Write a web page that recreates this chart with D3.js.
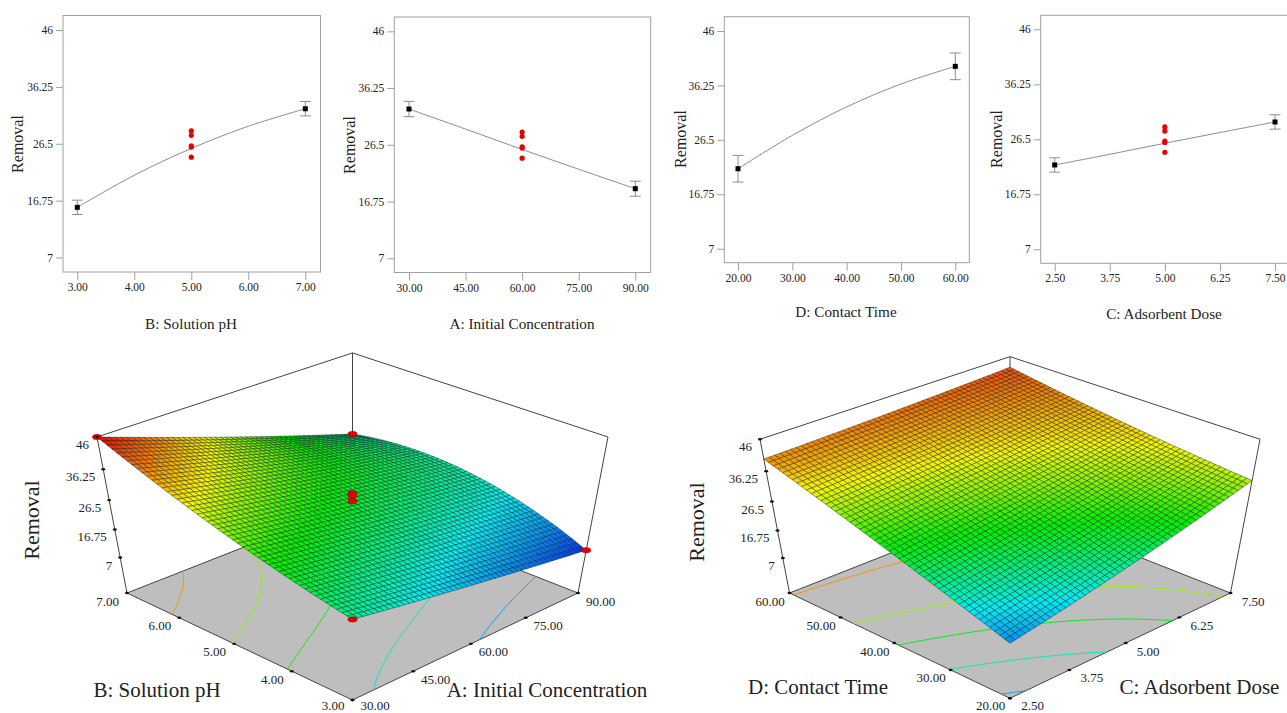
<!DOCTYPE html>
<html>
<head>
<meta charset="utf-8">
<script src="https://cdn.jsdelivr.net/npm/d3@7"></script>
<style>
  html, body { margin: 0; padding: 0; background: #fff; overflow: hidden; }
  text { font-family: "Liberation Serif", "Times New Roman", serif; fill: #222; }
</style>
</head>
<body>
<div id="chart"></div>
<script>
// values
const removalTicks = [7, 16.75, 26.5, 36.25, 46];
const centerRuns = [28.7, 27.95, 26.16, 25.93, 24.2];

const phTicks = [3, 4, 5, 6, 7];
const phCurve = [15.6, 21.1, 25.7, 29.5, 32.5];
const phErrors = [[3, 15.6, 1.23], [7, 32.5, 1.23]];

const concTicks = [30, 45, 60, 75, 90];
const concCurve = [32.65, 29.2, 25.7, 22.3, 18.96];
const concErrors = [[30, 32.65, 1.32], [90, 18.96, 1.29]];

const timeTicks = [20, 30, 40, 50, 60];
const timeCurve = [21.33, 27.3, 32.4, 36.5, 39.67];
const timeErrors = [[20, 21.33, 2.39], [60, 39.67, 2.39]];

const doseTicks = [2.5, 3.75, 5, 6.25, 7.5];
const doseCurve = [21.95, 23.84, 25.8, 27.7, 29.57];
const doseErrors = [[2.5, 21.95, 1.27], [7.5, 29.57, 1.27]];

// surfaces, rows are the second factor (low, mid, high), columns the first one
const surfaceConcPh = [
  [22.2, 15.5, 9.6],
  [32.1, 26, 21],
  [46, 32.3, 19.65]
];
const surfaceDoseTime = [
  [14, 22.6, 33.3],
  [27.5, 32.4, 37.3],
  [40, 41.1, 42.7]
];
const contourLevels = [15, 21, 27, 32.3, 39.5];

const fmt2 = d3.format(".2f");

const svg = d3.select("#chart").append("svg")
  .attr("width", 1287)
  .attr("height", 713);

// Main effect panels
const panels = [
  { label: "B: Solution pH", ticks: phTicks, curve: phCurve, errors: phErrors, runs: centerRuns, center: 5,
    frame: [63, 320.5, 15.5, 272], x0: 77.3, x1: 305.3, y46: 30, y7: 257.5,
    labelX: 191, labelY: 329, remX: 18, remY: 144 },
  { label: "A: Initial Concentration", ticks: concTicks, curve: concCurve, errors: concErrors, runs: centerRuns, center: 60,
    frame: [394.3, 650.7, 17, 272.5], x0: 409, x1: 635.3, y46: 31.3, y7: 258.3,
    labelX: 522, labelY: 329, remX: 350, remY: 145 },
  { label: "D: Contact Time", ticks: timeTicks, curve: timeCurve, errors: timeErrors, runs: [], center: 40,
    frame: [724.3, 969.3, 16.7, 262.7], x0: 738, x1: 955.3, y46: 31, y7: 248.7,
    labelX: 846, labelY: 317, remX: 681, remY: 139 },
  { label: "C: Adsorbent Dose", ticks: doseTicks, curve: doseCurve, errors: doseErrors, runs: centerRuns, center: 5,
    frame: [1040.7, 1292, 15.3, 263.3], x0: 1054.7, x1: 1275, y46: 29.3, y7: 249.3,
    labelX: 1164, labelY: 318.5, remX: 997, remY: 139 }
];

panels.forEach(p => {
  const g = svg.append("g");
  const x = d3.scaleLinear().domain(d3.extent(p.ticks)).range([p.x0, p.x1]);
  const y = d3.scaleLinear().domain([7, 46]).range([p.y7, p.y46]);

  g.append("rect")
    .attr("x", p.frame[0]).attr("y", p.frame[2])
    .attr("width", p.frame[1] - p.frame[0]).attr("height", p.frame[3] - p.frame[2])
    .attr("fill", "#fff").attr("stroke", "#a0a0a0");

  const xAxis = g.append("g")
    .attr("transform", `translate(0,${p.frame[3]})`)
    .call(d3.axisBottom(x).tickValues(p.ticks).tickFormat(fmt2).tickSize(8).tickPadding(3));
  const yAxis = g.append("g")
    .attr("transform", `translate(${p.frame[0]},0)`)
    .call(d3.axisLeft(y).tickValues(removalTicks).tickFormat(d => d).tickSize(7).tickPadding(3));
  [xAxis, yAxis].forEach(a => {
    a.select(".domain").remove();
    a.selectAll("line").attr("stroke", "#a0a0a0");
    a.selectAll("text").attr("font-size", 11.5).attr("font-family", null);
  });

  // fitted curve
  g.append("path")
    .datum(p.ticks.map((t, i) => [t, p.curve[i]]))
    .attr("fill", "none")
    .attr("stroke", "#8c8c8c")
    .attr("d", d3.line().x(d => x(d[0])).y(d => y(d[1])).curve(d3.curveCatmullRom));

  // error bars and means
  p.errors.forEach(e => {
    const bar = g.append("g").attr("stroke", "#8c8c8c").attr("fill", "none");
    bar.append("line").attr("x1", x(e[0])).attr("x2", x(e[0])).attr("y1", y(e[1] - e[2])).attr("y2", y(e[1] + e[2]));
    [e[1] - e[2], e[1] + e[2]].forEach(v => {
      bar.append("line").attr("x1", x(e[0]) - 5.5).attr("x2", x(e[0]) + 5.5).attr("y1", y(v)).attr("y2", y(v));
    });
    g.append("rect").attr("x", x(e[0]) - 2.5).attr("y", y(e[1]) - 2.5)
      .attr("width", 5).attr("height", 5).attr("fill", "#000");
  });

  g.selectAll(".run")
    .data(p.runs)
    .enter().append("circle")
    .attr("class", "run")
    .attr("cx", x(p.center))
    .attr("cy", d => y(d))
    .attr("r", 2.6)
    .attr("fill", "#e60000");

  g.append("text")
    .attr("x", p.labelX).attr("y", p.labelY)
    .attr("text-anchor", "middle").attr("font-size", 15.2)
    .text(p.label);
  g.append("text")
    .attr("transform", `translate(${p.remX},${p.remY}) rotate(-90)`)
    .attr("text-anchor", "middle").attr("dy", "0.32em").attr("font-size", 16)
    .text("Removal");
});

// Response surface colours, blue at the bottom through to red at the top
const surfaceColor = d3.scaleLinear()
  .domain([9.6, 18.5, 27.5, 35.5, 45])
  .range(["#0030f0", "#00ecf5", "#00f000", "#f5f500", "#f01400"])
  .clamp(true);

// quadratic through the three read values at t = 0, 0.5, 1
function through3(v, t) {
  return v[0] * (1 - t) * (1 - 2 * t) + v[1] * 4 * t * (1 - t) + v[2] * t * (2 * t - 1);
}
function surfaceValue(table, a, b) {
  return through3(table.map(row => through3(row, a)), b);
}

const zMin = -6;
const meshCells = 50;

function drawSurface(s) {
  const g = svg.append("g");
  const scaleA = d3.scaleLinear().domain(d3.extent(s.aTicks)).range([0, 1]);
  const scaleB = d3.scaleLinear().domain(d3.extent(s.bTicks)).range([0, 1]);
  const scaleH = d3.scaleLinear().domain([zMin, 46]).range([0, 1]);

  // perspective view of the unit box, a runs front to right and b runs front to left
  function project(a, b, v) {
    const p = a - b;
    const q = 1 - a - b;
    const h = scaleH(v);
    const w = 1 + s.kq * q + s.kh * h;
    return [s.cx + s.sx * p / w, s.cy + (s.sq * q + s.sh * h) / w];
  }
  const line = d3.line();

  // floor
  g.append("path")
    .attr("d", line([[0, 0], [1, 0], [1, 1], [0, 1]].map(c => project(c[0], c[1], zMin))) + "Z")
    .attr("fill", "#bebebe")
    .attr("stroke", "#333")
    .attr("stroke-width", 0.9);

  // box edges behind the surface
  const boxEdges = [
    [[0, 1, 46], [1, 1, 46], [1, 0, 46]],
    [[0, 1, zMin], [0, 1, 46]],
    [[1, 1, zMin], [1, 1, 46]],
    [[1, 0, zMin], [1, 0, 46]]
  ];
  g.selectAll(".box")
    .data(boxEdges)
    .enter().append("path")
    .attr("class", "box")
    .attr("fill", "none")
    .attr("stroke", "#444")
    .attr("stroke-width", 1)
    .attr("d", d => line(d.map(c => project(c[0], c[1], c[2]))));

  // floor contours
  const n = 121;
  const gridValues = [];
  for (let j = 0; j < n; j++) {
    for (let i = 0; i < n; i++) {
      gridValues.push(surfaceValue(s.table, i / (n - 1), j / (n - 1)));
    }
  }
  const inside = c => c[0] >= 0.5 && c[0] <= n - 0.5 && c[1] >= 0.5 && c[1] <= n - 0.5;
  d3.contours().size([n, n]).thresholds(contourLevels)(gridValues).forEach(level => {
    level.coordinates.forEach(polygon => polygon.forEach(ring => {
      let run = [];
      const flush = () => {
        if (run.length > 1) {
          g.append("path")
            .attr("fill", "none")
            .attr("stroke", surfaceColor(level.value))
            .attr("stroke-width", 1)
            .attr("d", line(run.map(c => project((c[0] - 0.5) / (n - 1), (c[1] - 0.5) / (n - 1), zMin))));
        }
        run = [];
      };
      ring.forEach(c => {
        if (inside(c)) run.push(c); else flush();
      });
      flush();
    }));
  });

  // surface mesh, painted from the back corner forward
  const cells = [];
  for (let j = 0; j < meshCells; j++) {
    for (let i = 0; i < meshCells; i++) cells.push([i, j]);
  }
  cells.sort((c, d) => (d[0] + d[1]) - (c[0] + c[1]));
  const nodeValue = (i, j) => surfaceValue(s.table, i / meshCells, j / meshCells);
  g.append("g").selectAll("path")
    .data(cells)
    .enter().append("path")
    .attr("d", c => {
      const corners = [[c[0], c[1]], [c[0] + 1, c[1]], [c[0] + 1, c[1] + 1], [c[0], c[1] + 1]];
      return line(corners.map(k => project(k[0] / meshCells, k[1] / meshCells, nodeValue(k[0], k[1])))) + "Z";
    })
    .attr("fill", c => surfaceColor(nodeValue(c[0] + 0.5, c[1] + 0.5)))
    .attr("stroke", "#0c1a10")
    .attr("stroke-opacity", 0.6)
    .attr("stroke-width", 0.7);

  // design points, only those above the surface can be seen
  const visiblePoints = s.corners
    ? [[0, 0], [2, 0], [0, 2], [2, 2]].map(k => [k[0] / 2, k[1] / 2, s.table[k[1]][k[0]]])
        .concat(s.runs.filter(v => v > surfaceValue(s.table, 0.5, 0.5)).map(v => [0.5, 0.5, v]))
    : [];
  visiblePoints.forEach(d => {
    const pos = project(d[0], d[1], d[2]);
    g.append("ellipse")
      .attr("cx", pos[0]).attr("cy", pos[1])
      .attr("rx", 4.6).attr("ry", 2.7)
      .attr("fill", "#e60000")
      .attr("stroke", "#7a0000")
      .attr("stroke-width", 0.4);
  });

  // floor ticks and labels
  const floorTick = (pos) => g.append("ellipse")
    .attr("cx", pos[0]).attr("cy", pos[1])
    .attr("rx", 2).attr("ry", 1.2)
    .attr("fill", "#111");
  s.bTicks.forEach(t => {
    const pos = project(0, scaleB(t), zMin);
    floorTick(pos);
    g.append("text")
      .attr("x", pos[0] - 19.5).attr("y", Math.min(pos[1] + 12.5, 709.5))
      .attr("text-anchor", "middle").attr("font-size", 13)
      .text(fmt2(t));
  });
  s.aTicks.forEach(t => {
    const pos = project(scaleA(t), 0, zMin);
    floorTick(pos);
    g.append("text")
      .attr("x", pos[0] + 22.5).attr("y", Math.min(pos[1] + 12.5, 709.5))
      .attr("text-anchor", "middle").attr("font-size", 13)
      .text(fmt2(t));
  });

  // response axis, drawn along the left upright
  removalTicks.forEach(t => {
    const pos = project(0, 1, t);
    floorTick(pos);
    g.append("text")
      .attr("x", pos[0] - 8).attr("y", pos[1] + 12)
      .attr("text-anchor", "end").attr("font-size", 13)
      .text(t);
  });

  g.append("text")
    .attr("x", s.bLabel[0]).attr("y", s.bLabel[1])
    .attr("text-anchor", "middle").attr("font-size", 21)
    .text(s.bName);
  g.append("text")
    .attr("x", s.aLabel[0]).attr("y", s.aLabel[1])
    .attr("text-anchor", "middle").attr("font-size", 21)
    .text(s.aName);
  g.append("text")
    .attr("transform", `translate(${s.remLabel[0]},${s.remLabel[1]}) rotate(-90)`)
    .attr("text-anchor", "middle").attr("dy", "0.32em").attr("font-size", 22)
    .text("Removal");
}

drawSurface({
  table: surfaceConcPh, aTicks: concTicks, bTicks: phTicks, runs: centerRuns, corners: true,
  aName: "A: Initial Concentration", bName: "B: Solution pH",
  cx: 352.5, cy: 593, sx: 225.5, sq: 96.9, sh: -137.7, kq: -0.0946, kh: -0.1174,
  aLabel: [547, 697], bLabel: [157, 697], remLabel: [32, 520]
});
drawSurface({
  table: surfaceDoseTime, aTicks: doseTicks, bTicks: timeTicks, runs: [], corners: false,
  aName: "C: Adsorbent Dose", bName: "D: Contact Time",
  cx: 1010, cy: 593, sx: 220.5, sq: 95.3, sh: -135.6, kq: -0.095, kh: -0.118,
  aLabel: [1199.5, 694], bLabel: [818, 694], remLabel: [697, 522]
});
</script>
</body>
</html>
